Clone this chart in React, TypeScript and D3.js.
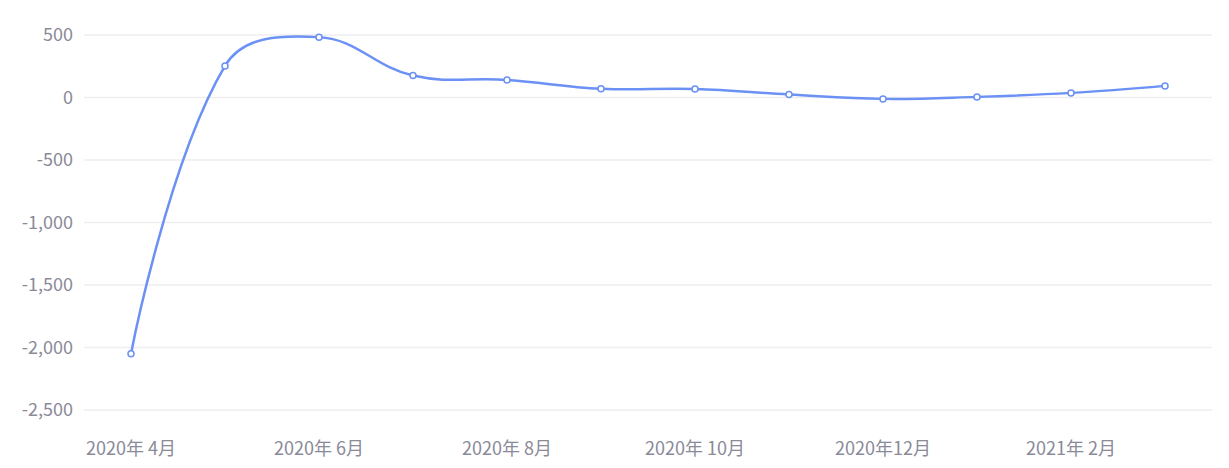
import * as d3 from "d3";
import { useEffect, useRef } from "react";

const MONTHS = [
	"2020-04", "2020-05", "2020-06", "2020-07", "2020-08", "2020-09",
	"2020-10", "2020-11", "2020-12", "2021-01", "2021-02", "2021-03",
];
const VALUES = [-2050, 253, 483, 176, 140, 70, 68, 24, -11, 5, 37, 93];
const X_TICKS = ["2020-04", "2020-06", "2020-08", "2020-10", "2020-12", "2021-02"];
const X_TICK_LABELS = ["2020年 4月", "2020年 6月", "2020年 8月", "2020年 10月", "2020年12月", "2021年 2月"];
const Y_TICKS = [500, 0, -500, -1000, -1500, -2000, -2500];

const WIDTH = 1229;
const HEIGHT = 468;
const FONT = "'Noto Sans CJK SC', 'Noto Sans', sans-serif";
const LABEL_COLOR = "#8a8a99";
const LINE_COLOR = "#6b91f5";

type Pt = [number, number];

// catmull-rom -> bezier, distance weighted, clamped to plot box
function splinePath(points: Pt[], box: [Pt, Pt], smooth = 0.4) {
	const [min, max] = box;
	const clamp = (p: Pt): Pt => [
		Math.min(Math.max(p[0], min[0]), max[0]),
		Math.min(Math.max(p[1], min[1]), max[1]),
	];
	const cps: Pt[] = [];
	for (let i = 0; i < points.length; i++) {
		const p = points[i];
		if (i === 0 || i === points.length - 1) {
			cps.push(p);
			continue;
		}
		const prev = points[i - 1];
		const next = points[i + 1];
		const v: Pt = [(next[0] - prev[0]) * smooth, (next[1] - prev[1]) * smooth];
		let d0 = Math.hypot(p[0] - prev[0], p[1] - prev[1]);
		let d1 = Math.hypot(p[0] - next[0], p[1] - next[1]);
		const sum = d0 + d1;
		if (sum) {
			d0 /= sum;
			d1 /= sum;
		}
		const cpIn = clamp([p[0] - v[0] * d0, p[1] - v[1] * d0]);
		const cpOut = clamp([p[0] + v[0] * d1, p[1] + v[1] * d1]);
		cps.push(cpIn, cpOut);
	}
	const path = d3.path();
	path.moveTo(points[0][0], points[0][1]);
	for (let i = 1; i < points.length; i++) {
		const c0 = cps[2 * (i - 1)];
		const c1 = cps[2 * i - 1];
		path.bezierCurveTo(c0[0], c0[1], c1[0], c1[1], points[i][0], points[i][1]);
	}
	return path.toString();
}

export default function App() {
	const svgRef = useRef<SVGSVGElement>(null);

	useEffect(() => {
		if (!svgRef.current) return;
		const svg = d3.select(svgRef.current);
		svg.selectAll("*").remove();

		const left = 84;
		const right = 1212;
		const top = 35;
		const bottom = 410;

		const x = d3.scalePoint<string>().domain(MONTHS).range([left, right]).padding(0.5);
		const y = d3.scaleLinear().domain([-2500, 500]).range([bottom, top]);

		// Grid lines
		svg.append("g")
			.selectAll("line")
			.data(Y_TICKS)
			.enter()
			.append("line")
			.attr("x1", left)
			.attr("x2", right)
			.attr("y1", (d) => y(d))
			.attr("y2", (d) => y(d))
			.attr("stroke", "#eeeef0")
			.attr("stroke-width", 1.5);

		// Y labels
		const fmt = d3.format(",");
		svg.append("g")
			.selectAll("text")
			.data(Y_TICKS)
			.enter()
			.append("text")
			.attr("x", 73)
			.attr("y", (d) => y(d))
			.attr("dy", "0.35em")
			.attr("text-anchor", "end")
			.attr("font-size", "18px")
			.attr("font-family", FONT)
			.attr("fill", LABEL_COLOR)
			.text((d) => fmt(d).replace("−", "-"));

		// X labels
		svg.append("g")
			.selectAll("text")
			.data(X_TICKS)
			.enter()
			.append("text")
			.attr("x", (d) => x(d)!)
			.attr("y", 449)
			.attr("dy", "0.35em")
			.attr("text-anchor", "middle")
			.attr("font-size", "18px")
			.attr("font-family", FONT)
			.attr("fill", LABEL_COLOR)
			.text((_, i) => X_TICK_LABELS[i]);

		const pts: Pt[] = MONTHS.map((m, i) => [x(m)!, y(VALUES[i])]);

		svg.append("path")
			.attr("d", splinePath(pts, [[left, top], [right, bottom]]))
			.attr("fill", "none")
			.attr("stroke", LINE_COLOR)
			.attr("stroke-width", 2.5);

		svg.append("g")
			.selectAll("circle")
			.data(pts)
			.enter()
			.append("circle")
			.attr("cx", (d) => d[0])
			.attr("cy", (d) => d[1])
			.attr("r", 3)
			.attr("fill", "#fff")
			.attr("stroke", LINE_COLOR)
			.attr("stroke-width", 1.5);
	}, []);

	return (
		<svg
			ref={svgRef}
			width={WIDTH}
			height={HEIGHT}
			style={{ position: "absolute", left: 0, top: 0, background: "#fff" }}
		/>
	);
}
